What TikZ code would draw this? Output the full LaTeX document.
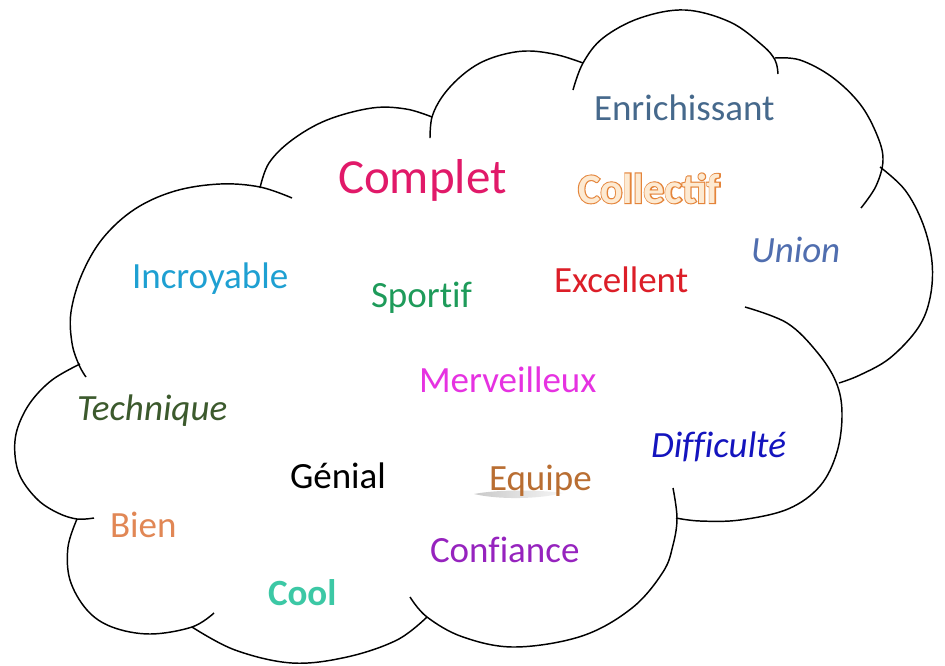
\documentclass[tikz,border=0pt]{standalone}
\usepackage{fontspec}
\setmainfont[Ligatures=CommonOff]{Carlito}
\newfontfamily\colOfont{Carlito Bold}[FakeBold=5]
\newfontfamily\colFfont{Carlito Bold}
\definecolor{cEnr}{RGB}{70,105,140}
\definecolor{cCom}{RGB}{225,25,105}
\definecolor{cColO}{RGB}{228,132,58}
\definecolor{cColF}{RGB}{253,234,210}
\definecolor{cUni}{RGB}{80,110,175}
\definecolor{cInc}{RGB}{30,160,210}
\definecolor{cSpo}{RGB}{30,155,90}
\definecolor{cExc}{RGB}{220,30,40}
\definecolor{cMer}{RGB}{230,50,225}
\definecolor{cTec}{RGB}{60,90,45}
\definecolor{cDif}{RGB}{20,20,190}
\definecolor{cEqu}{RGB}{185,110,50}
\definecolor{cBie}{RGB}{225,135,85}
\definecolor{cCon}{RGB}{150,35,190}
\definecolor{cCoo}{RGB}{60,200,165}
\newcommand{\wordfont}{\fontsize{27.75}{32}\selectfont}
\newcommand{\bigwordfont}{\fontsize{36.75}{42}\selectfont}
\newcommand{\colsize}{\fontsize{31.5}{36}\selectfont}
\begin{document}
\begin{tikzpicture}[x=0.75pt,y=-0.75pt,
  cloudline/.style={draw=black, line width=1.1pt, line join=round},
  word/.style={anchor=base west, inner sep=0pt, outer sep=0pt, font=\wordfont}]
\useasboundingbox (0,0) rectangle (945,665);
\fill[white] (0,0) rectangle (945,665);
% cloud lobes
\draw[cloudline] plot[smooth, tension=0.6] coordinates {(292,198) (260,187) (220,184) (175,191) (135,209) (103,238) (82,274) (71,312) (72,343) (79,365) (86,377)};
\draw[cloudline] plot[smooth, tension=0.6] coordinates {(260,188) (269,163) (292,140) (327,120) (372,108) (406,109) (432,117)};
\draw[cloudline] plot[smooth, tension=0.6] coordinates {(430,138) (432,117) (442,97) (459,78) (480,63) (505,54) (530,51) (558,55) (583,63)};
\draw[cloudline] plot[smooth, tension=0.6] coordinates {(573,90) (583,63) (603,38) (640,18) (685,10) (730,22) (762,45) (775,60) (778,74)};
\draw[cloudline] plot[smooth, tension=0.6] coordinates {(775,58) (800,60) (832,77) (860,104) (877,135) (883,160) (876,186) (861,208)};
\draw[cloudline] plot[smooth, tension=0.6] coordinates {(880,167) (905,190) (923,224) (932,262) (930,298) (918,328) (890,358) (860,375) (839,383)};
\draw[cloudline] plot[smooth, tension=0.6] coordinates {(745,307) (787,323) (817,352) (836,382) (842,413) (837,452) (820,486) (788,509) (740,520) (700,521) (676,518)};
\draw[cloudline] plot[smooth, tension=0.6] coordinates {(673,488) (677,518) (673,545) (663,572) (632,608) (582,636) (515,647) (463,637) (427,617) (410,597)};
\draw[cloudline] plot[smooth, tension=0.6] coordinates {(427,617) (397,640) (347,657) (292,663) (235,650) (192,627)};
\draw[cloudline] plot[smooth, tension=0.6] coordinates {(77,519) (68,547) (70,580) (87,610) (112,627) (150,634) (192,627) (214,613)};
\draw[cloudline] plot[smooth, tension=0.6] coordinates {(80,364) (52,380) (30,403) (17,430) (15,455) (21,478) (38,500) (58,513) (77,519) (94,518)};
% shadow under Equipe
\shade[left color=black!60, right color=black!10, opacity=0.35] (474,494) .. controls (500,489) and (540,490) .. (563,493) .. controls (540,499) and (500,500) .. (474,494) -- cycle;
% words
\node[word, text=cEnr] (enr) at (594,120) {Enrichissant};
\node[word, text=cCom, font=\bigwordfont] (com) at (338,193) {Complet};
\node[word, font=\colsize] (col) at (578,203) {\rlap{\colOfont\textcolor{cColO}{Collectif}}\colFfont\textcolor{cColF}{Collectif}};
\node[word, text=cUni, font=\wordfont\itshape] (uni) at (751,262) {Union};
\node[word, text=cInc] (inc) at (132,288) {Incroyable};
\node[word, text=cSpo] (spo) at (371,307) {Sportif};
\node[word, text=cExc] (exc) at (554,292) {Excellent};
\node[word, text=cMer] (mer) at (419,392) {Merveilleux};
\node[word, text=cTec, font=\wordfont\itshape] (tec) at (77,420) {Technique};
\node[word, text=cDif, font=\wordfont\itshape] (dif) at (651,457) {Difficulté};
\node[word, text=black] (gen) at (290,488) {Génial};
\node[word, text=cEqu] (equ) at (489,490) {Equipe};
\node[word, text=cBie] (bie) at (110,537) {Bien};
\node[word, text=cCon] (con) at (430,562) {Confiance};
\node[word, text=cCoo, font=\wordfont\bfseries] (coo) at (268,605) {Cool};
\end{tikzpicture}
\end{document}
